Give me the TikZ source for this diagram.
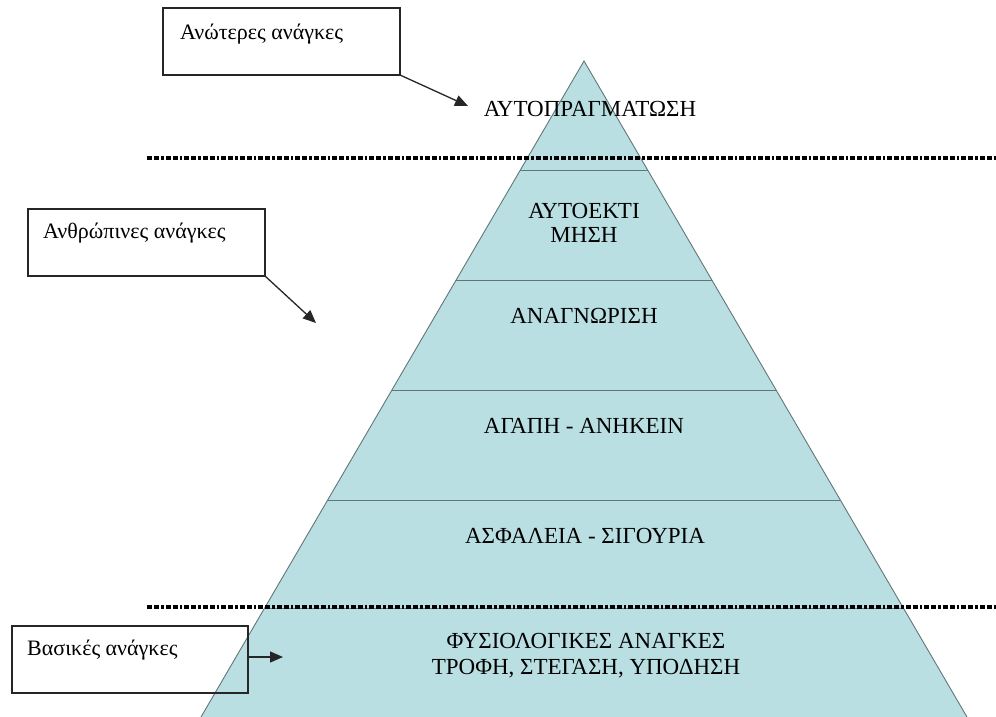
\documentclass[tikz,border=0pt]{standalone}
\usepackage{fontspec}
\setmainfont{Liberation Serif}
\usetikzlibrary{calc,arrows.meta}

\definecolor{tierfill}{RGB}{186,223,227}
\definecolor{tierline}{RGB}{98,118,120}

\tikzset{
  lbl/.style={font=\fontsize{23}{26}\selectfont, inner sep=0pt, anchor=base},
  boxtext/.style={font=\fontsize{22}{25}\selectfont, inner sep=0pt, anchor=base west},
  notebox/.style={draw=black!85, line width=1.3pt},
  pointer/.style={draw=black!85, line width=1.3pt, -{Triangle[length=13pt,width=11pt]}},
  divider/.style={line width=3.2pt, dash pattern=on 5pt off 2pt on 5pt off 2pt on 2.5pt off 2pt},
  tierrule/.style={draw=tierline, line width=0.9pt}
}

\begin{document}
\begin{tikzpicture}[x=1pt, y=-1pt]
  \useasboundingbox (0,0) rectangle (996,717);

  % pyramid outline points
  \coordinate (apex) at (584,61);
  \coordinate (bl) at (201,717);
  \coordinate (br) at (967,717);

  % pyramid body
  \fill[tierfill] (apex) -- (bl) -- (br) -- cycle;
  \draw[tierrule] (bl) -- (apex) -- (br);

  % horizontal tier rules
  \foreach \t/\n in {0.1662/a, 0.3338/b, 0.5015/c, 0.6692/d, 0.8338/e} {
    \coordinate (l\n) at ($(apex)!\t!(bl)$);
    \coordinate (r\n) at ($(apex)!\t!(br)$);
    \draw[tierrule] (l\n) -- (r\n);
  }

  % tier labels
  \node[lbl] (top) at (590,117) {ΑΥΤΟΠΡΑΓΜΑΤΩΣΗ};
  \node[lbl] (esteemA) at (584,218) {ΑΥΤΟΕΚΤΙ};
  \node[lbl] (esteemB) at (584,242) {ΜΗΣΗ};
  \node[lbl] (recog) at (584,323) {ΑΝΑΓΝΩΡΙΣΗ};
  \node[lbl] (love) at (584,433) {ΑΓΑΠΗ - ΑΝΗΚΕΙΝ};
  \node[lbl] (safety) at (585,543) {ΑΣΦΑΛΕΙΑ - ΣΙΓΟΥΡΙΑ};
  \node[lbl] (physA) at (586,648) {ΦΥΣΙΟΛΟΓΙΚΕΣ ΑΝΑΓΚΕΣ};
  \node[lbl] (physB) at (586,674) {ΤΡΟΦΗ, ΣΤΕΓΑΣΗ, ΥΠΟΔΗΣΗ};

  % dotted dividers between need groups
  \coordinate (d1a) at (147,158);
  \coordinate (d1b) at (996,158);
  \coordinate (d2a) at (147,607);
  \coordinate (d2b) at (996,607);
  \draw[divider] (d1a) -- (d1b);
  \draw[divider] (d2a) -- (d2b);

  % annotation boxes
  \draw[notebox] (163,8) rectangle (400,75);
  \coordinate (higherCorner) at (400,75);
  \node[boxtext] (higher) at (180,40) {Ανώτερες ανάγκες};

  \draw[notebox] (28,209) rectangle (265,276);
  \coordinate (humanCorner) at (265,276);
  \node[boxtext] (human) at (43,238) {Ανθρώπινες ανάγκες};

  \draw[notebox] (12,626) rectangle (248,693);
  \coordinate (basicSide) at (248,657);
  \node[boxtext] (basic) at (27,655) {Βασικές ανάγκες};

  % pointers
  \coordinate (tip1) at (468,106);
  \coordinate (tip2) at (316,323);
  \coordinate (tip3) at (283,657);
  \draw[pointer] (higherCorner) -- (tip1);
  \draw[pointer] (humanCorner) -- (tip2);
  \draw[pointer] (basicSide) -- (tip3);
\end{tikzpicture}
\end{document}
